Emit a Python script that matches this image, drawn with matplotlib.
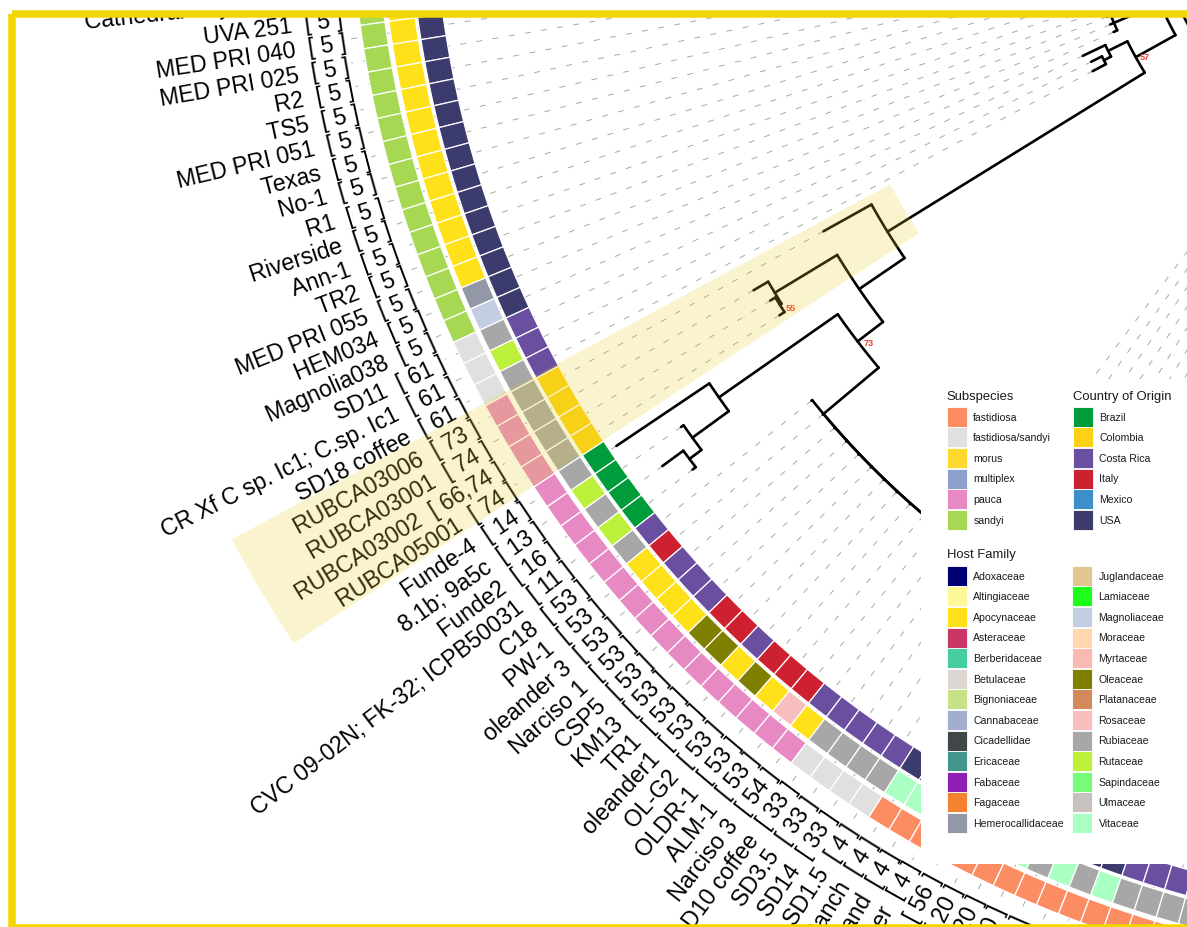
import numpy as np
import matplotlib
matplotlib.use("Agg")
import matplotlib.pyplot as plt
from matplotlib.patches import Rectangle

plt.rcParams["font.family"] = ["Liberation Sans", "DejaVu Sans"]
plt.rcParams["lines.scale_dashes"] = False

W, H, DPI = 1187, 928, 100

# ------------------------------------------------------------------
# Strains in the order they sit around the circle
# ------------------------------------------------------------------
tip_names = [
    "Cathedral City; CC1", "UVA 251", "MED PRI 040", "MED PRI 025", "R2", "TS5",
    "MED PRI 051", "Texas", "No-1", "R1", "Riverside", "Ann-1", "TR2",
    "MED PRI 055", "HEM034", "Magnolia038", "SD11", "CR Xf C sp. Ic1; C.sp. Ic1",
    "SD18 coffee", "RUBCA03006", "RUBCA03001", "RUBCA03002", "RUBCA05001",
    "Funde-4", "8.1b; 9a5c", "Funde2", "CVC 09-02N; FK-32; ICPB50031",
    "C18", "PW-1", "oleander 3", "Narciso 1", "CSP5", "KM13", "TR1", "oleander1",
    "OL-G2", "OLDR-1", "ALM-1", "Narciso 3", "D10 coffee", "SD3.5", "SD14", "SD1.5",
    "Stags Leap Ranch", "Hopland", "Fetzer", "Temecula1", "GB514", "M23", "EB92-1",
    "Conn Creek", "Dixon", "ATCC 35879", "WM1-1", "XF53", "M12", "Sy-VA", "CFBP 7970",
    "XYL 1981",
]
tip_st = (
    ["5"] * 16 + ["61"] * 3 + ["73", "74", "66,74", "74", "14", "13", "16", "11"] +
    ["53"] * 11 + ["54"] + ["33"] * 3 + ["4"] * 4 + ["56"] + ["20"] * 3 +
    ["1"] * 4 + ["2"] * 5
)
tip_country = (
    ["USA"] * 16 + ["Costa Rica"] * 3 + ["Colombia"] * 4 + ["Brazil"] * 4 +
    ["Costa Rica", "Italy", "Costa Rica", "Costa Rica", "Costa Rica", "Italy",
     "Italy", "Costa Rica", "Italy", "Italy", "Italy", "Costa Rica"] +
    ["Costa Rica"] * 4 + ["USA"] * 11 + ["Costa Rica"] * 5
)
tip_host = (
    ["Apocynaceae"] * 14 + ["Hemerocallidaceae", "Magnoliaceae",
     "Rubiaceae", "Rutaceae", "Rubiaceae"] + ["Rubiaceae"] * 4 +
    ["Rubiaceae", "Rutaceae", "Rubiaceae", "Rutaceae"] +
    ["Rubiaceae", "Apocynaceae", "Apocynaceae", "Apocynaceae", "Apocynaceae",
     "Oleaceae", "Oleaceae", "Apocynaceae", "Oleaceae", "Apocynaceae",
     "Rosaceae", "Apocynaceae"] +
    ["Rubiaceae"] * 4 + ["Vitaceae"] * 7 +
    ["Rubiaceae", "Vitaceae", "Rubiaceae", "Vitaceae", "Rubiaceae", "Rubiaceae",
     "Rubiaceae", "Rubiaceae", "Rubiaceae"]
)
tip_subsp = (
    ["sandyi"] * 16 + ["fastidiosa/sandyi"] * 3 + ["pauca"] * 20 +
    ["fastidiosa/sandyi"] * 4 + ["fastidiosa"] * 16
)

# tree: parent of every strain and its distance from the root (radius units)
tip_parent = (
    ["SA1"] * 13 + ["a"] * 3 + ["B", "B2", "B2", "A", "D", "E", "E",
     "H", "J", "K", "K", "G"] +
    ["G28", "G29", "G30", "G31", "G32", "G33", "G34", "G35", "G36", "G37", "G37"] +
    ["QC"] * 4 + ["QF"] * 16
)
tip_depth = (
    [430, 425, 440, 445, 420, 435, 430, 440, 425, 430, 420, 415, 405,
     392, 392, 392, 430, 425, 428, 741, 831, 822, 822,
     1030, 966, 1004, 982] + [846] * 12 + [470, 475, 480, 472] +
    [500, 505, 510, 520, 515, 530, 540, 525, 535, 545, 550, 540, 555, 560, 548, 552]
)

node_ids = ["R", "P", "Q", "SA", "SA1", "a", "N57", "B", "B2", "A", "C", "D", "E",
            "F", "H", "J", "K", "G", "G28", "G29", "G30", "G31", "G32", "G33",
            "G34", "G35", "G36", "G37", "QC", "QF"]
node_parent = [None, "R", "R", "P", "SA", "SA", "P", "N57", "B", "N57", "A", "C", "D",
               "C", "F", "H", "J", "F", "G", "G28", "G29", "G30", "G31", "G32",
               "G33", "G34", "G35", "G36", "Q", "Q"]
node_depth = [322, 338, 340, 362, 375, 388, 383.5, 405, 413, 686, 741, 814, 816,
              773, 918, 963, 978, 845, 845, 845, 845, 845, 845, 845,
              845, 845, 845, 845, 440, 462]
node_support = {"N57": "57", "E": "55", "F": "73"}
hilight_tips = (19, 22)

subsp_levels = ["fastidiosa", "fastidiosa/sandyi", "morus", "multiplex", "pauca", "sandyi"]
subsp_colors = ["#FC8D62", "#E0E0E0", "#FFD92F", "#8DA0CB", "#E78AC3", "#A6D854"]
country_levels = ["Brazil", "Colombia", "Costa Rica", "Italy", "Mexico", "USA"]
country_colors = ["#009C3B", "#FCD116", "#6A4EA0", "#CE2130", "#3D8EC9", "#3C3B6E"]
host_levels = ["Adoxaceae", "Altingiaceae", "Apocynaceae", "Asteraceae", "Berberidaceae",
               "Betulaceae", "Bignoniaceae", "Cannabaceae", "Cicadellidae", "Ericaceae",
               "Fabaceae", "Fagaceae", "Hemerocallidaceae", "Juglandaceae", "Lamiaceae",
               "Magnoliaceae", "Moraceae", "Myrtaceae", "Oleaceae", "Platanaceae",
               "Rosaceae", "Rubiaceae", "Rutaceae", "Sapindaceae", "Ulmaceae", "Vitaceae"]
host_colors = ["#000075", "#FFF899", "#FFE119", "#C93764", "#46CEA2",
               "#DCD7D3", "#C7E186", "#A3ADCF", "#414749", "#42958C",
               "#911EB4", "#F58231", "#9298A5", "#E2C591", "#1BFF1B",
               "#C4CEE2", "#FFD8B1", "#FBB9B3", "#808000", "#D4895A",
               "#F8BDBD", "#A7A7A7", "#BDF03B", "#78FC78", "#C9C1BD", "#AAFFC3"]

# ------------------------------------------------------------------
# geometry of the circular layout (radius axis in pixels)
# ------------------------------------------------------------------
CX, CY = 1471.0, -128.0          # centre of the circle, pixel coords (y down)
RMAX = 1900.0
THETA0, DTHETA = 186.1, 1.21     # angle of first strain and step, degrees
R_LABEL = 1138
RINGS = [(tip_country, dict(zip(country_levels, country_colors)), 1038, 25.5),
         (tip_host, dict(zip(host_levels, host_colors)), 1066, 26.5),
         (tip_subsp, dict(zip(subsp_levels, subsp_colors)), 1096.5, 25.0)]


def ang(y):
    return np.deg2rad(THETA0 + np.asarray(y, dtype=float) * DTHETA)


fig = plt.figure(figsize=(W / DPI, H / DPI), dpi=DPI)
fig.patch.set_facecolor("white")
ax = fig.add_axes([(CX - RMAX) / W, (H - CY - RMAX) / H, 2 * RMAX / W, 2 * RMAX / H],
                  projection="polar")
ax.set_ylim(0, RMAX)
ax.set_axis_off()

n_tips = len(tip_names)
parent = {i: p for i, p in enumerate(tip_parent)}
parent.update({n: p for n, p in zip(node_ids, node_parent)})
depth = {i: d for i, d in enumerate(tip_depth)}
depth.update({n: d for n, d in zip(node_ids, node_depth)})
children = {}
for k, p in parent.items():
    if p is not None:
        children.setdefault(p, []).append(k)

ypos = {i: float(i) for i in range(n_tips)}


def node_y(n):
    if n not in ypos:
        ypos[n] = float(np.mean([node_y(c) for c in children[n]]))
    return ypos[n]


for n in node_ids:
    node_y(n)

# branches
LW = 1.9
for k, p in parent.items():
    if p is None or depth[k] == depth[p]:
        continue
    t = ang(ypos[k])
    ax.plot([t, t], [depth[p], depth[k]], color="black", lw=LW,
            solid_capstyle="round", zorder=4)
for n in node_ids:
    ys = [ypos[c] for c in children[n]]
    t = np.linspace(ang(min(ys)), ang(max(ys)), 80)
    ax.plot(t, np.full_like(t, depth[n]), color="black", lw=LW,
            solid_capstyle="round", zorder=4)

# support values
for n, s in node_support.items():
    ax.text(ang(ypos[n] + 0.5), depth[n] - 8, s, color="#EE3B2B", fontsize=6.6,
            fontweight="bold", ha="center", va="center", zorder=5)

# dotted guides from tips to labels
for i in range(n_tips):
    t = ang(i)
    ax.plot([t, t], [depth[i], R_LABEL - 2], color="#A8A8A8", lw=0.7,
            dashes=(4.3, 7.5), zorder=2)

# annotation rings
for values, cmap, r0, w in RINGS:
    ax.bar(ang(np.arange(n_tips)), w, width=np.deg2rad(DTHETA), bottom=r0,
           color=[cmap[v] for v in values], edgecolor="white", linewidth=0.9,
           zorder=6)

# tip labels
for i in range(n_tips):
    deg = THETA0 + i * DTHETA
    ax.text(ang(i), R_LABEL, f"{tip_names[i]}  [ {tip_st[i]} ]", rotation=deg - 180,
            rotation_mode="anchor", ha="right", va="center_baseline", fontsize=16.7,
            color="black", zorder=7)

# highlighted clade
y0, y1 = hilight_tips[0] - 0.62, hilight_tips[1] + 0.45
ax.bar(ang((y0 + y1) / 2), 1408 - 660, width=np.deg2rad((y1 - y0) * DTHETA),
       bottom=660, color="#E9CE23", alpha=0.22, linewidth=0, zorder=9)

# ------------------------------------------------------------------
# page overlay: frame and legends (pixel coordinates)
# ------------------------------------------------------------------
ov = fig.add_axes([0, 0, 1, 1], zorder=5)
ov.set_xlim(0, W)
ov.set_ylim(H, 0)
ov.axis("off")
ov.patch.set_alpha(0)

ov.add_patch(Rectangle((0, 0), W, 15.5, fc="white", ec="none"))
ov.add_patch(Rectangle((0, 0), 11.5, H, fc="white", ec="none"))
ov.add_patch(Rectangle((11.5, 15.3), W + 30, 928.8 - 15.3, fill=False,
                       ec="#F2D600", lw=5.4))

ov.add_patch(Rectangle((921, 380), W - 921 + 5, 865 - 380, fc="white", ec="none"))

TXT = "#1A1A1A"
KEY, PITCH = 20.0, 20.6


def legend_column(x, y_top, levels, colors):
    for j, (lab, col) in enumerate(zip(levels, colors)):
        y = y_top + j * PITCH
        ov.add_patch(Rectangle((x, y), KEY, KEY, fc=col, ec="white", lw=0.6))
        ov.text(x + 26.6, y + KEY / 2, lab, fontsize=7.6, color=TXT,
                ha="left", va="center")


ov.text(946.7, 400, "Subspecies", fontsize=9.4, color=TXT, ha="left", va="baseline")
ov.text(1072.7, 400, "Country of Origin", fontsize=9.4, color=TXT, ha="left",
        va="baseline")
legend_column(946.7, 407.7, subsp_levels, subsp_colors)
legend_column(1072.7, 407.7, country_levels, country_colors)

ov.text(946.7, 558.5, "Host Family", fontsize=9.4, color=TXT, ha="left", va="baseline")
legend_column(946.7, 566.7, host_levels[:13], host_colors[:13])
legend_column(1072.0, 566.7, host_levels[13:], host_colors[13:])

fig.savefig("out.png", dpi=DPI, facecolor="white")
